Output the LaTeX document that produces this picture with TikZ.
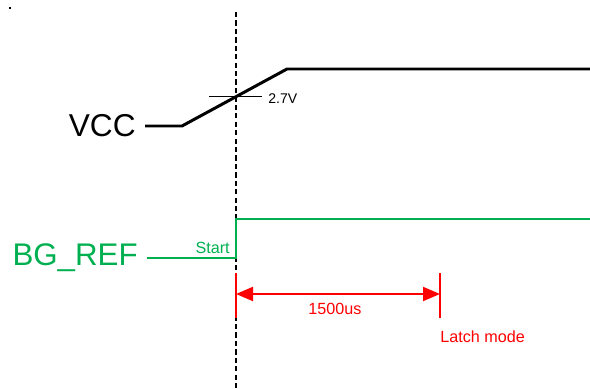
\documentclass[tikz,border=0pt]{standalone}
\usepackage{fontspec}
\setmainfont{Liberation Sans}
\usetikzlibrary{positioning,arrows.meta}
\definecolor{sigGreen}{RGB}{0,176,80}
\definecolor{markRed}{RGB}{255,0,0}

\begin{document}
\begin{tikzpicture}[x=0.02cm, y=-0.02cm,
  vccline/.style={line width=1.7pt, line join=miter},
  bgline/.style={sigGreen, line width=1.6pt},
  refline/.style={line width=0.8pt, dash pattern=on 3pt off 1.8pt},
  redline/.style={markRed, line width=1.1pt},
  bigtxt/.style={font=\fontsize{18}{20}\selectfont, inner sep=0pt},
  smalltxt/.style={font=\fontsize{8}{9}\selectfont, inner sep=0pt},
  midtxt/.style={font=\fontsize{9.2}{10}\selectfont, inner sep=0pt},
  dimtip/.tip={Triangle[length=0.34cm, width=0.28cm]}]
  \useasboundingbox (0,0) rectangle (590,388);
  % stray mark top left
  \fill (9.4,7.4) rectangle (10.6,8.6);
  % reference instant
  \draw[refline] (236,12) -- (236,388);
  % VCC ramp
  \coordinate (vccStart) at (145,126);
  \coordinate (rampLow) at (182,126);
  \coordinate (rampHigh) at (287,69);
  \node[bigtxt, left=0.18cm of vccStart] (vcc) {VCC};
  \draw[vccline] (vccStart) -- (rampLow) -- (rampHigh) -- (590,69);
  % 2.7V threshold tick
  \coordinate (tickL) at (209,96);
  \coordinate (tickR) at (262,96);
  \draw[line width=0.5pt] (tickL) -- (tickR);
  \node[smalltxt, anchor=west] (thr) at (268,99) {2.7V};
  % BG_REF step
  \coordinate (bgStart) at (147,258);
  \coordinate (edgeLow) at (236,258);
  \coordinate (edgeHigh) at (236,219);
  \node[bigtxt, sigGreen, font=\fontsize{17.8}{19}\selectfont, left=0.18cm of bgStart] (bg) {BG\_REF};
  \draw[bgline] (bgStart) -- (edgeLow) -- (edgeHigh) -- (590,219);
  \node[midtxt, sigGreen, anchor=base east] (start) at (230,253) {Start};
  % 1500us interval
  \coordinate (t0top) at (236,273);
  \coordinate (t0bot) at (236,318);
  \coordinate (t1top) at (440,273);
  \coordinate (t1bot) at (440,318);
  \draw[redline] (t0top) -- (t0bot);
  \draw[redline] (t1top) -- (t1bot);
  \coordinate (arrL) at (236,294);
  \coordinate (arrR) at (440,294);
  \draw[redline, dimtip-dimtip] (arrL) -- (arrR);
  \node[midtxt, markRed] (dur) at (335,309) {1500us};
  \node[midtxt, markRed, anchor=west] (latch) at (440,337) {Latch mode};
\end{tikzpicture}
\end{document}
